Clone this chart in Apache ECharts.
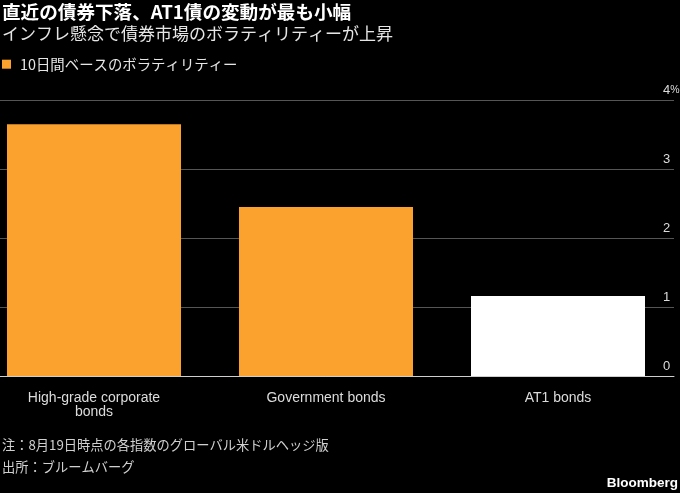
<!DOCTYPE html>
<html>
<head>
<meta charset="utf-8">
<script src="https://cdn.jsdelivr.net/npm/echarts@6/dist/echarts.min.js"></script>
<style>
  html, body { margin: 0; padding: 0; background: #000; overflow: hidden; }
  /* chart is 22px wider and shifted left so the first category sits where the reference has it */
  #container { width: 702px; height: 493px; margin-left: -22px; }
</style>
</head>
<body>
<div id="container"></div>
<script>
var categories = ['High-grade corporate\nbonds', 'Government bonds', 'AT1 bonds'];
var volatility = [3.65, 2.45, 1.16];
var barColors = ['#fba12d', '#fba12d', '#ffffff'];
var yTicks = [0, 1, 2, 3, 4];

var jp = '"Noto Sans CJK JP", "Noto Sans", sans-serif';
var latin = '"Liberation Sans", Arial, sans-serif';
var L = 24; // page x = 2

var chart = echarts.init(document.getElementById('container'));

var option = {
    backgroundColor: '#000',
    animation: false,
    title: [{
        text: '直近の債券下落、AT1債の変動が最も小幅',
        left: L, top: 3, padding: 0,
        textStyle: { color: '#fff', fontSize: 18.6, fontWeight: 'bold', fontFamily: jp }
    }, {
        text: 'インフレ懸念で債券市場のボラティリティーが上昇',
        left: L, top: 25, padding: 0,
        textStyle: { color: '#e6e6e6', fontSize: 17, fontWeight: 'normal', fontFamily: jp }
    }, {
        text: '注：8月19日時点の各指数のグローバル米ドルヘッジ版',
        left: L, top: 438, padding: 0,
        textStyle: { color: '#d0d0d0', fontSize: 13.25, fontWeight: 'normal', fontFamily: jp }
    }, {
        text: '出所：ブルームバーグ',
        left: L, top: 460, padding: 0,
        textStyle: { color: '#d0d0d0', fontSize: 13.25, fontWeight: 'normal', fontFamily: jp }
    }, {
        text: 'Bloomberg',
        right: 2, top: 476, padding: 0,
        textStyle: { color: '#fff', fontSize: 13.5, fontWeight: 'bold', fontFamily: latin }
    }],
    legend: {
        left: L, top: 57, padding: 0,
        icon: 'rect',
        itemWidth: 9, itemHeight: 9, itemGap: 9,
        textStyle: { color: '#e6e6e6', fontSize: 14.4, fontFamily: jp, padding: [0, 0, 0, 4] },
        data: ['10日間ベースのボラティリティー']
    },
    grid: {
        left: 0, width: 696, top: 100, bottom: 117,
        containLabel: false, outerBoundsMode: 'none'
    },
    xAxis: {
        type: 'category',
        data: categories,
        axisLine: { lineStyle: { color: '#cfcfcf', width: 1 } },
        axisTick: { alignWithLabel: true, length: 5, lineStyle: { color: '#cfcfcf' } },
        axisLabel: {
            color: '#dcdcdc', fontSize: 14, margin: 15, lineHeight: 14,
            fontFamily: latin
        }
    },
    yAxis: {
        type: 'value',
        position: 'right',
        min: 0, max: 4, interval: 1,
        axisLine: { show: false },
        axisTick: { show: false },
        splitLine: { lineStyle: { color: '#555', width: 1 } },
        axisLabel: {
            inside: true, margin: 11, align: 'left',
            verticalAlign: 'bottom', padding: [0, 0, 3, 0],
            color: '#dcdcdc', fontSize: 13,
            fontFamily: latin,
            formatter: function (v) {
                return v === yTicks[yTicks.length - 1] ? v + '{p|%}' : String(v);
            },
            rich: {
                p: { fontSize: 10.5, color: '#dcdcdc', fontFamily: latin, padding: [0, 0, 1, 0] }
            }
        }
    },
    series: [{
        name: '10日間ベースのボラティリティー',
        type: 'bar',
        barWidth: '75%',
        itemStyle: { color: '#fba12d' },
        data: volatility.map(function (v, i) {
            return { value: v, itemStyle: { color: barColors[i] } };
        })
    }]
};
chart.setOption(option);
</script>
</body>
</html>
